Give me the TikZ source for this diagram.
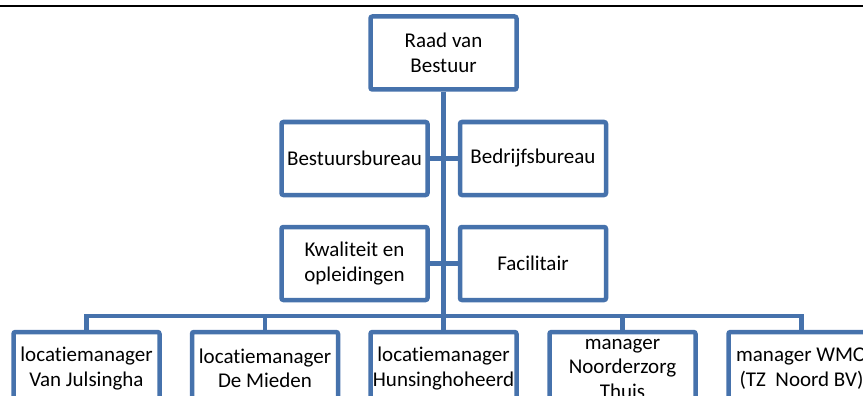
\documentclass[tikz,border=0pt]{standalone}
\usepackage{fontspec}
\setmainfont[Ligatures=NoCommon]{Carlito}
\definecolor{boxblue}{HTML}{4672AC}
\tikzset{
  orgbox/.style={draw=boxblue, line width=4.5pt, fill=white, rounded corners=2pt,
    minimum width=146pt, minimum height=73pt, inner sep=0pt, align=center,
    font=\fontsize{21}{24.5}\selectfont},
  link/.style={draw=boxblue, line width=4.5pt, line join=miter}
}
\begin{document}
\begin{tikzpicture}[x=1pt,y=-1pt]
\useasboundingbox (0,0) rectangle (863,396);
\clip (0,0) rectangle (863,396);
\draw[line width=2.5pt] (0,6) -- (863,6);
\node[orgbox] (rvb) at (443.5,53) {Raad van\\Bestuur};
\node[orgbox] (bb) at (354.5,158.5) {Bestuursbureau};
\node[orgbox] (bd) at (533,158.5) {Bedrijfsbureau};
\node[orgbox] (kw) at (354.5,263.5) {Kwaliteit en\\opleidingen};
\node[orgbox] (fa) at (533,263.5) {Facilitair};
\node[orgbox] (m1) at (86.5,368.5) {locatiemanager\\Van Julsingha};
\node[orgbox] (m2) at (265,368.5) {locatiemanager\\De Mieden};
\node[orgbox] (m3) at (443.5,368.5) {locatiemanager\\Hunsinghoheerd};
\node[orgbox] (m4) at (622.5,368.5) {manager\\Noorderzorg\\Thuis};
\node[orgbox] (m5) at (801.5,368.5) {manager WMO\\(TZ~~Noord BV)};
\coordinate (bus) at (443.5,316);
\draw[link] (rvb.south) -- (bus);
\draw[link] (bb.east) -- (bd.west);
\draw[link] (kw.east) -- (fa.west);
\draw[link] (m1.north) |- (bus) -| (m5.north);
\draw[link] (m2.north) -- (m2.north |- bus);
\draw[link] (m3.north) -- (m3.north |- bus);
\draw[link] (m4.north) -- (m4.north |- bus);
\end{tikzpicture}
\end{document}
